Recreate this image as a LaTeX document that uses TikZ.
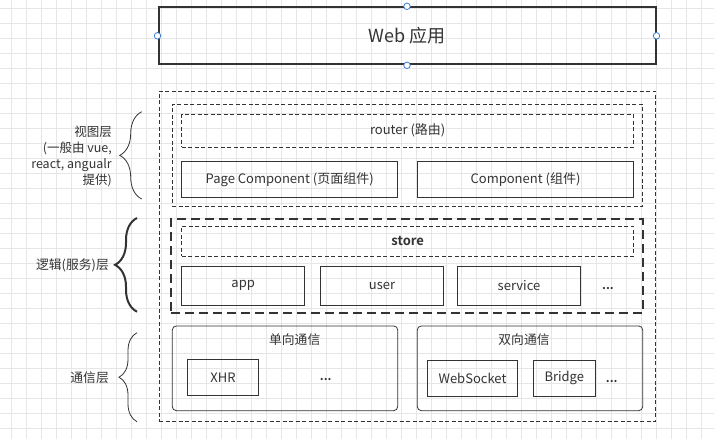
\documentclass[tikz,border=0pt]{standalone}
\usepackage{fontspec}
\setmainfont{Noto Sans CJK SC}[BoldFont={Noto Sans CJK SC Bold}]
\usetikzlibrary{positioning,decorations.pathreplacing}
\definecolor{ink}{HTML}{333333}
\definecolor{handleblue}{HTML}{3D7FD6}
\definecolor{gridgray}{HTML}{E6E6E6}
\tikzset{
  box/.style={draw=ink, line width=0.8pt, text=ink, inner sep=0pt,
    font=\fontsize{13}{15}\selectfont},
  dbox/.style={box, dash pattern=on 4pt off 2.5pt},
  group/.style={box, rounded corners=4pt},
  lbl/.style={text=ink, inner sep=1pt, font=\fontsize{12.8}{15}\selectfont},
  dots/.style={text=ink, inner sep=0.5pt, font=\fontsize{12}{14}\selectfont\bfseries},
  handle/.style={circle, draw=handleblue, fill=white, line width=0.8pt,
    minimum size=6.5pt, inner sep=0pt},
  layerbrace/.style={draw=ink, decorate, decoration={brace, amplitude=#1}},
}
\begin{document}
\begin{tikzpicture}[x=1pt, y=-1pt]
\useasboundingbox (0,0) rectangle (714,439);
\fill[white] (0,0) rectangle (714,439);

% background grid
\foreach \gx in {0,...,47}
  \draw[gridgray, line width=0.6pt] ({11.7+15*\gx},0) -- ({11.7+15*\gx},439);
\foreach \gy in {0,...,29}
  \draw[gridgray, line width=0.6pt] (0,{8+15*\gy}) -- (714,{8+15*\gy});

% top
\node[box, line width=2pt, minimum width=497pt, minimum height=57pt,
  font=\fontsize{18}{20}\selectfont] (web) at (407,35.8) {Web 应用};
\node[handle] (hw) at (web.west) {};
\node[handle] (he) at (web.east) {};
\node[handle] (hn) at (web.north) {};
\node[handle] (hs) at (web.south) {};

% layers
\node[dbox, minimum width=496.5pt, minimum height=330pt] (outer) at (407.3,256) {};

% view layer
\node[dbox, minimum width=470.5pt, minimum height=101.7pt] (view) at (407.5,155.2) {};
\node[dbox, minimum width=452pt, minimum height=32.7pt] (router) at (407.7,130.7) {router (路由)};
\node[box, minimum width=216pt, minimum height=36.4pt] (page) at (289.7,179.5) {Page Component (页面组件)};
\node[box, minimum width=216.4pt, minimum height=36.4pt] (comp) at (525.5,179.5) {Component (组件)};

% logic layer
\node[draw=ink, line width=2.6pt, dash pattern=on 9pt off 5pt,
  minimum width=471.7pt, minimum height=93.7pt] (logic) at (407,266) {};
\node[dbox, minimum width=452pt, minimum height=30pt, font=\fontsize{13}{15}\selectfont\bfseries] (store) at (407.7,241) {store};
\node[box, minimum width=123pt, minimum height=39.3pt] (app) at (243.2,285.7) {app};
\node[box, minimum width=123.4pt, minimum height=39.3pt] (user) at (382,285.7) {user};
\node[box, minimum width=123.4pt, minimum height=39.3pt] (service) at (519,285.7) {service};
\node[dots] (more1) at (608,289) {...};

% communication layer
\node[group, minimum width=225.4pt, minimum height=84.7pt] (uni) at (285,368.3) {};
\node[lbl] (unit) at (294.7,340) {单向通信};
\node[box, minimum width=71.4pt, minimum height=36pt] (xhr) at (223,377.3) {XHR};
\node[dots] (more2) at (325.7,380) {...};

\node[group, minimum width=225.4pt, minimum height=84.7pt] (bi) at (530,368.3) {};
\node[lbl] (bit) at (524,340) {双向通信};
\node[box, minimum width=90.4pt, minimum height=36pt] (ws) at (472.5,378.3) {WebSocket};
\node[box, minimum width=62pt, minimum height=36pt] (bridge) at (564.3,378.3) {Bridge};
\node[dots] (more3) at (611.7,382) {...};

% left labels
\node[lbl, anchor=east, align=right, font=\fontsize{12.5}{16}\selectfont] (viewl) at (113,156)
  {视图层\\(一般由 vue,\\react, angualr\\提供)};
\node[lbl, anchor=east] (logicl) at (110,265) {逻辑(服务)层};
\node[lbl, anchor=east] (comml) at (110,378) {通信层};

\coordinate (b1s) at (141.7,199);
\coordinate (b1e) at (141.7,111.7);
\coordinate (b2s) at (137,311.7);
\coordinate (b2e) at (137,218);
\coordinate (b3s) at (137,421.7);
\coordinate (b3e) at (137,332.7);
\draw[layerbrace=22pt, line width=0.8pt] (b1s) -- (b1e);
\draw[layerbrace=22pt, line width=2pt] (b2s) -- (b2e);
\draw[layerbrace=18pt, line width=0.8pt] (b3s) -- (b3e);
\end{tikzpicture}
\end{document}
